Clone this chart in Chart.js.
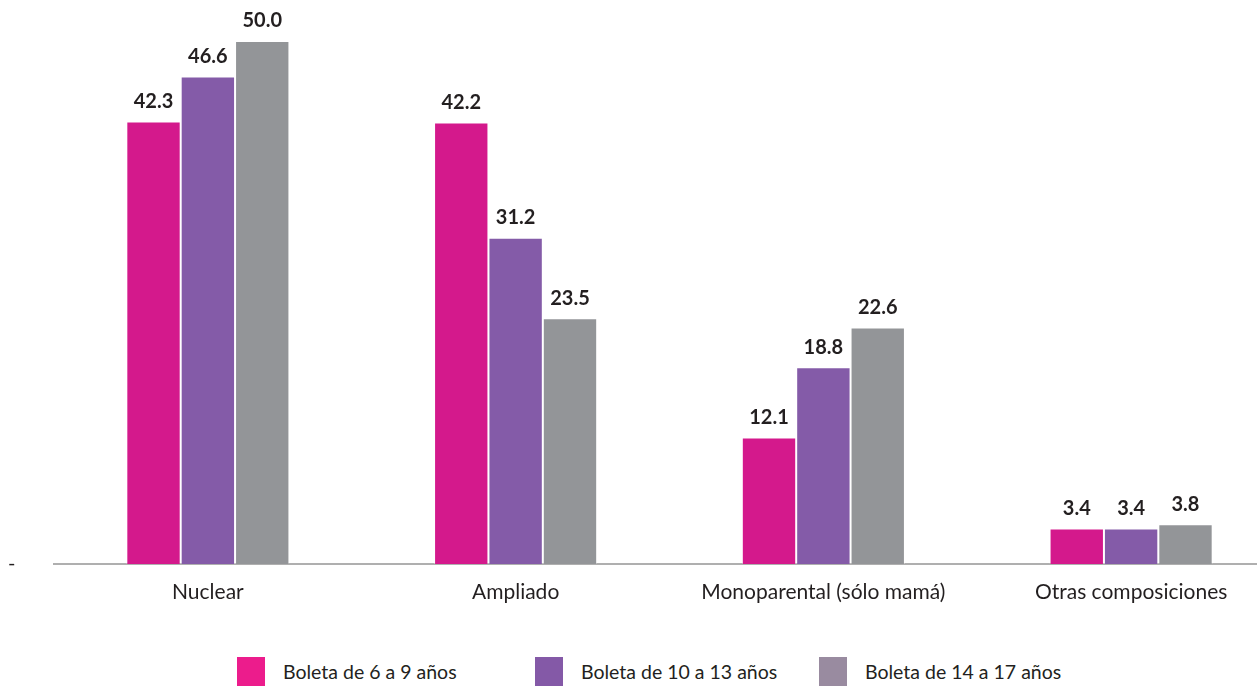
<!DOCTYPE html>
<html>
<head>
<meta charset="utf-8">
<script src="https://cdn.jsdelivr.net/npm/chart.js@4.4.1/dist/chart.umd.min.js"></script>
<style>
  html, body { margin: 0; padding: 0; background: #ffffff; overflow: hidden; }
  #page { width: 1257px; height: 686px; position: relative; overflow: hidden; }
  #wrap { width: 1285px; height: 620px; position: absolute; left: 0; top: 0; }
  #legend { position: absolute; top: 657px; left: 0; height: 30px; font-family: Lato, "Open Sans", sans-serif; font-size: 19.5px; color: #231F20; }
  .item { position: absolute; top: 0; height: 30px; line-height: 30px; white-space: nowrap; }
  .item span.box { position: absolute; left: 0; top: 0; width: 28px; height: 30px; }
  .item span.txt { position: absolute; left: 46px; top: 0; }
</style>
</head>
<body>
<div id="page">
  <div id="wrap"><canvas id="barChart"></canvas></div>
  <div id="legend"></div>
</div>
<script>
// categories and series
var categories = ['Nuclear', 'Ampliado', 'Monoparental (sólo mamá)', 'Otras composiciones'];
var seriesNames = ['Boleta de 6 a 9 años', 'Boleta de 10 a 13 años', 'Boleta de 14 a 17 años'];
var boleta6a9 = [42.3, 42.2, 12.1, 3.4];
var boleta10a13 = [46.6, 31.2, 18.8, 3.4];
var boleta14a17 = [50.0, 23.5, 22.6, 3.8];

var barColors = ['#D4198C', '#845BA8', '#939598'];
var legendColors = ['#EC1C8C', '#8459A7', '#998BA0'];
var legendLeft = [237, 535, 819];
var fontFamily = 'Lato, "Open Sans", sans-serif';

// html legend below the chart
var legendEl = document.getElementById('legend');
seriesNames.forEach(function (name, i) {
    var item = document.createElement('div');
    item.className = 'item';
    item.style.left = legendLeft[i] + 'px';
    item.innerHTML = '<span class="box" style="background:' + legendColors[i] + '"></span><span class="txt">' + name + '</span>';
    legendEl.appendChild(item);
});

// value labels above each bar
var valueLabels = {
    id: 'valueLabels',
    afterDatasetsDraw: function (chart) {
        var ctx = chart.ctx;
        ctx.save();
        ctx.font = 'bold 20px ' + fontFamily;
        ctx.fillStyle = '#231F20';
        ctx.textAlign = 'center';
        ctx.textBaseline = 'bottom';
        chart.data.datasets.forEach(function (ds, i) {
            chart.getDatasetMeta(i).data.forEach(function (bar, j) {
                ctx.fillText(ds.data[j].toFixed(1), bar.x, bar.y - 10);
            });
        });
        ctx.restore();
    }
};

var ctxBar = document.getElementById('barChart').getContext('2d');
var barChart = new Chart(ctxBar, {
    type: 'bar',
    data: {
        labels: categories,
        datasets: [boleta6a9, boleta10a13, boleta14a17].map(function (d, i) {
            return {
                label: seriesNames[i],
                data: d,
                backgroundColor: barColors[i],
                borderColor: 'rgba(255,255,255,0.35)',
                borderWidth: 1,
                categoryPercentage: 0.53,
                barPercentage: 1
            };
        })
    },
    options: {
        responsive: true,
        maintainAspectRatio: false,
        animation: false,
        layout: {
            padding: { top: 41, right: 0, left: 8, bottom: 15 }
        },
        plugins: {
            tooltip: { enabled: false },
            legend: { display: false }
        },
        scales: {
            x: {
                grid: { display: false, drawTicks: false },
                border: { display: true, color: '#AFAFAF', width: 2 },
                ticks: {
                    padding: 16,
                    color: '#231F20',
                    font: { family: fontFamily, size: 21 }
                },
                afterFit: function (scale) { scale.height = 41; }
            },
            y: {
                min: 0,
                max: 50,
                grid: { display: false, drawTicks: false },
                border: { display: false },
                ticks: {
                    padding: 0,
                    crossAlign: 'far',
                    color: '#231F20',
                    font: { family: fontFamily, size: 20 },
                    callback: function (v) { return v === 0 ? '-' : ''; }
                },
                afterBuildTicks: function (scale) {
                    scale.ticks = scale.ticks.filter(function (t) { return t.value === 0; });
                },
                afterFit: function (scale) { scale.width = 46; }
            }
        }
    },
    plugins: [valueLabels]
});
</script>
</body>
</html>
